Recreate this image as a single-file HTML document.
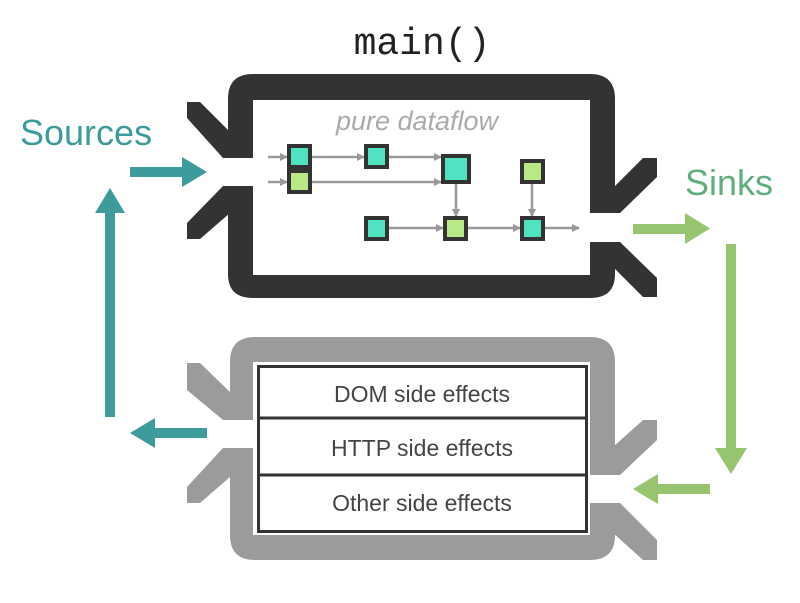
<!DOCTYPE html>
<html><head><meta charset="utf-8"><style>
html,body{margin:0;padding:0;background:#fff;}
svg{display:block;}
text{font-family:"Liberation Sans",sans-serif;}
</style></head><body>
<svg width="800" height="603" viewBox="0 0 800 603" xmlns="http://www.w3.org/2000/svg">
<!-- TOP BOX -->
<path fill="#333" fill-rule="evenodd" d="M253,74 H590 Q615,74 615,99 V274 Q615,298 590,298 H253 Q228,298 228,274 V99 Q228,74 253,74 Z M253,100 V275 H590 V100 Z"/>
<rect x="225" y="158" width="30" height="28" fill="#fff"/>
<rect x="588" y="213" width="30" height="29" fill="#fff"/>
<g fill="#333">
<polygon points="187,102 200,102 230,132 230,158 223,158 187,118"/>
<polygon points="223,186 230,186 230,213 200,239 187,239 187,223"/>
<polygon points="643,158 657,158 657,177 620,213 613,213 613,188"/>
<polygon points="613,242 620,242 657,278 657,297 643,297 613,267"/>
</g>
<text x="422" y="54" text-anchor="middle" font-size="38" fill="#222" style="font-family:'Liberation Mono',monospace">main()</text>
<text x="417" y="130" text-anchor="middle" font-size="27" fill="#aaa" font-style="italic">pure dataflow</text>
<defs><marker id="ah" markerWidth="8" markerHeight="8" refX="7" refY="4" orient="auto" markerUnits="userSpaceOnUse"><path d="M0,0 L8,4 L0,8 Z" fill="#999"/></marker></defs>
<g stroke="#999" stroke-width="2.5" fill="none" marker-end="url(#ah)">
<line x1="268" y1="157" x2="287" y2="157"/>
<line x1="268" y1="182" x2="287" y2="182"/>
<line x1="312" y1="157" x2="364" y2="157"/>
<line x1="389" y1="157" x2="441" y2="157"/>
<line x1="312" y1="182" x2="441" y2="182"/>
<line x1="456" y1="184" x2="456" y2="216"/>
<line x1="532" y1="184" x2="532" y2="216"/>
<line x1="389" y1="228" x2="443" y2="228"/>
<line x1="468" y1="228" x2="520" y2="228"/>
<line x1="545" y1="228" x2="579" y2="228"/>
</g>
<g stroke="#333" stroke-width="4">
<rect x="289" y="146" width="21" height="21" fill="#50e3c2"/>
<rect x="289" y="171" width="21" height="21" fill="#b8e986"/>
<rect x="366" y="146" width="21" height="21" fill="#50e3c2"/>
<rect x="443" y="156" width="26" height="26" fill="#50e3c2"/>
<rect x="522" y="161" width="21" height="21" fill="#b8e986"/>
<rect x="366" y="218" width="21" height="21" fill="#50e3c2"/>
<rect x="445" y="218" width="21" height="21" fill="#b8e986"/>
<rect x="522" y="218" width="21" height="21" fill="#50e3c2"/>
</g>
<!-- BOTTOM BOX -->
<path fill="#9b9b9b" fill-rule="evenodd" d="M255,337 H590 Q615,337 615,362 V535 Q615,560 590,560 H255 Q230,560 230,535 V362 Q230,337 255,337 Z M253,362 V535 H590 V362 Z"/>
<rect x="225" y="420" width="30" height="28" fill="#fff"/>
<rect x="588" y="475" width="30" height="28" fill="#fff"/>
<g fill="#9b9b9b">
<polygon points="187,363 200,363 230,392 230,420 223,420 187,390"/>
<polygon points="223,448 230,448 230,477 200,503 187,503 187,487"/>
<polygon points="643,420 657,420 657,440 620,475 613,475 613,447"/>
<polygon points="613,503 620,503 657,540 657,560 643,560 613,533"/>
</g>
<rect x="258.5" y="366.5" width="328" height="165" fill="#fff" stroke="#333" stroke-width="3"/>
<line x1="258" y1="418" x2="587" y2="418" stroke="#333" stroke-width="3"/>
<line x1="258" y1="475" x2="587" y2="475" stroke="#333" stroke-width="3"/>
<g font-size="23" fill="#444" text-anchor="middle">
<text x="422" y="402">DOM side effects</text>
<text x="422" y="456">HTTP side effects</text>
<text x="422" y="511">Other side effects</text>
</g>
<!-- Sources -->
<text x="20" y="145" font-size="36" fill="#3d9b9b">Sources</text>
<g fill="#3d9b9b">
<rect x="130" y="167" width="54" height="10"/>
<polygon points="182,157 207,172 182,187"/>
<rect x="105" y="211" width="10" height="206"/>
<polygon points="95,213 110,188 125,213"/>
<rect x="153" y="428" width="54" height="10"/>
<polygon points="155,418 130,433 155,448"/>
</g>
<!-- Sinks -->
<text x="685" y="195" font-size="36" fill="#5fae7e">Sinks</text>
<g fill="#97c46e">
<rect x="633" y="224" width="54" height="10"/>
<polygon points="685,213 710,228.5 685,244"/>
<rect x="726" y="244" width="10" height="206"/>
<polygon points="715,448 731,474 747,448"/>
<rect x="656" y="484" width="54" height="10"/>
<polygon points="658,474 633,489 658,504"/>
</g>
</svg>
</body></html>
